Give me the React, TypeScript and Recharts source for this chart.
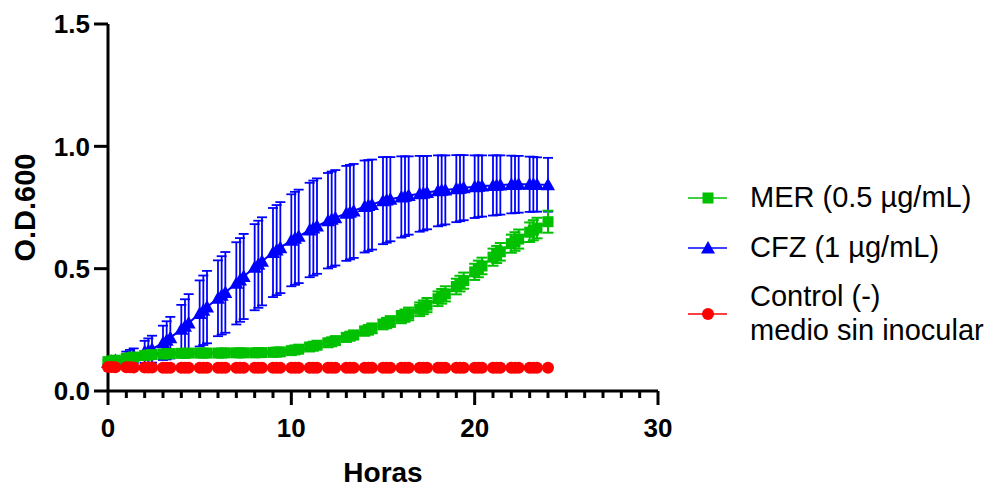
import React from 'react';
import { LineChart, Line, XAxis, YAxis, ErrorBar, Legend } from 'recharts';

// ─── Data ─────────────────────────────────────────────────────────────────────
// readings come in groups of three per hour, last one at 24 h
const TIME = [
    0, 0.2, 0.4, 1, 1.2, 1.4, 2, 2.2, 2.4, 3, 3.2, 3.4, 4, 4.2, 4.4, 5, 5.2, 5.4,
    6, 6.2, 6.4, 7, 7.2, 7.4, 8, 8.2, 8.4, 9, 9.2, 9.4, 10, 10.2, 10.4, 11, 11.2, 11.4,
    12, 12.2, 12.4, 13, 13.2, 13.4, 14, 14.2, 14.4, 15, 15.2, 15.4, 16, 16.2, 16.4,
    17, 17.2, 17.4, 18, 18.2, 18.4, 19, 19.2, 19.4, 20, 20.2, 20.4, 21, 21.2, 21.4,
    22, 22.2, 22.4, 23, 23.2, 23.4, 24,
];

const CFZ = [
    0.118, 0.122, 0.125, 0.136, 0.140, 0.144, 0.160, 0.165, 0.171, 0.197, 0.207, 0.218,
    0.252, 0.265, 0.278, 0.317, 0.330, 0.343, 0.379, 0.391, 0.403, 0.440, 0.454, 0.468,
    0.506, 0.518, 0.530, 0.566, 0.576, 0.586, 0.616, 0.624, 0.632, 0.658, 0.666, 0.674,
    0.696, 0.702, 0.708, 0.726, 0.731, 0.736, 0.754, 0.758, 0.762, 0.778, 0.781, 0.784,
    0.793, 0.796, 0.799, 0.806, 0.808, 0.811, 0.818, 0.820, 0.822, 0.827, 0.829, 0.831,
    0.835, 0.837, 0.838, 0.840, 0.841, 0.842, 0.844, 0.844, 0.845, 0.845, 0.845, 0.844,
    0.843,
];

const CFZ_SD = [
    0.010, 0.011, 0.012, 0.025, 0.028, 0.030, 0.045, 0.050, 0.055, 0.070, 0.078, 0.085,
    0.100, 0.110, 0.118, 0.135, 0.142, 0.148, 0.155, 0.160, 0.165, 0.168, 0.171, 0.174,
    0.176, 0.178, 0.180, 0.182, 0.184, 0.186, 0.188, 0.190, 0.191, 0.193, 0.194, 0.195,
    0.195, 0.195, 0.195, 0.194, 0.193, 0.192, 0.188, 0.186, 0.184, 0.178, 0.175, 0.172,
    0.166, 0.163, 0.160, 0.155, 0.152, 0.150, 0.145, 0.143, 0.141, 0.137, 0.135, 0.133,
    0.128, 0.126, 0.125, 0.123, 0.122, 0.121, 0.118, 0.117, 0.116, 0.113, 0.112, 0.111,
    0.110,
];

const MER = [
    0.120, 0.123, 0.126, 0.133, 0.136, 0.139, 0.145, 0.147, 0.149, 0.151, 0.152, 0.153,
    0.154, 0.154, 0.155, 0.155, 0.155, 0.155, 0.155, 0.155, 0.156, 0.156, 0.156, 0.156,
    0.156, 0.157, 0.157, 0.158, 0.159, 0.160, 0.165, 0.168, 0.171, 0.180, 0.183, 0.187,
    0.197, 0.201, 0.206, 0.219, 0.224, 0.229, 0.245, 0.250, 0.256, 0.272, 0.278, 0.284,
    0.302, 0.308, 0.315, 0.334, 0.342, 0.351, 0.377, 0.387, 0.397, 0.427, 0.439, 0.451,
    0.487, 0.499, 0.511, 0.547, 0.558, 0.569, 0.602, 0.611, 0.621, 0.649, 0.657, 0.666,
    0.692,
];

const MER_SD = [
    0.006, 0.006, 0.006, 0.006, 0.006, 0.006, 0.006, 0.006, 0.006, 0.006, 0.006, 0.006,
    0.006, 0.006, 0.006, 0.006, 0.006, 0.006, 0.006, 0.006, 0.006, 0.006, 0.006, 0.006,
    0.007, 0.007, 0.007, 0.008, 0.008, 0.008, 0.010, 0.010, 0.011, 0.012, 0.012, 0.013,
    0.014, 0.014, 0.015, 0.016, 0.016, 0.017, 0.018, 0.019, 0.020, 0.020, 0.021, 0.022,
    0.025, 0.025, 0.026, 0.028, 0.028, 0.029, 0.030, 0.030, 0.031, 0.032, 0.032, 0.033,
    0.033, 0.034, 0.034, 0.035, 0.035, 0.036, 0.037, 0.038, 0.039, 0.040, 0.041, 0.042,
    0.045,
];

const CTRL = [
    0.098, 0.098, 0.097, 0.097, 0.097, 0.096, 0.096, 0.096, 0.096, 0.095, 0.095, 0.095,
    0.095, 0.095, 0.095, 0.095, 0.095, 0.095, 0.095, 0.095, 0.095, 0.095, 0.095, 0.095,
    0.095, 0.095, 0.095, 0.095, 0.095, 0.095, 0.095, 0.095, 0.095, 0.095, 0.095, 0.095,
    0.095, 0.095, 0.095, 0.095, 0.095, 0.095, 0.095, 0.095, 0.095, 0.095, 0.095, 0.095,
    0.095, 0.095, 0.095, 0.095, 0.095, 0.095, 0.095, 0.095, 0.095, 0.095, 0.095, 0.095,
    0.095, 0.095, 0.095, 0.095, 0.095, 0.095, 0.095, 0.095, 0.095, 0.095, 0.095, 0.095,
    0.095,
];

const X_TICKS = [
    0, 1, 2, 3, 4, 5, 6, 7, 8, 9, 10, 11, 12, 13, 14, 15, 16, 17, 18, 19, 20,
    21, 22, 23, 24, 25, 26, 27, 28, 29, 30,
];
const Y_TICKS = [0, 0.5, 1, 1.5];

const BLUE = '#0000FF';
const GREEN = '#00C000';
const RED = '#FF0000';
const FONT = '"Liberation Sans", Arial, Helvetica, sans-serif';

const LEGEND = [
    { label: ['MER (0.5 µg/mL)'], color: GREEN, shape: 'square' },
    { label: ['CFZ (1 µg/mL)'], color: BLUE, shape: 'triangle' },
    { label: ['Control (-)', 'medio sin inocular'], color: RED, shape: 'circle' },
];

const data = TIME.map((t, i) => ({
    t,
    cfz: CFZ[i],
    cfzSd: CFZ_SD[i],
    mer: MER[i],
    merSd: MER_SD[i],
    ctrl: CTRL[i],
}));

// ─── Markers ──────────────────────────────────────────────────────────────────
function Marker({ shape, cx, cy, color }: { shape: string; cx: number; cy: number; color: string }) {
    if (shape === 'triangle') {
        return <polygon points={`${cx},${cy - 7} ${cx + 7},${cy + 5.5} ${cx - 7},${cy + 5.5}`} fill={color} />;
    }
    if (shape === 'square') {
        return <rect x={cx - 5.5} y={cy - 5.5} width={11} height={11} fill={color} />;
    }
    return <circle cx={cx} cy={cy} r={6} fill={color} />;
}

const dotOf = (shape: string, color: string) => (props: any) => {
    const { cx, cy, index } = props;
    if (cx == null || cy == null) return <g key={`e-${index}`} />;
    return (
        <g key={`${shape}-${index}`}>
            <Marker shape={shape} cx={cx} cy={cy} color={color} />
        </g>
    );
};

// ─── Axis pieces ──────────────────────────────────────────────────────────────
const XTick = (props: any) => {
    const { x, y, payload } = props;
    const major = payload.value % 10 === 0;
    return (
        <g>
            <line x1={x} x2={x} y1={y} y2={y + (major ? 14 : 7)} stroke="#000" strokeWidth={3} />
            {major && (
                <text x={x} y={y + 46} textAnchor="middle" fill="#000"
                    style={{ fontFamily: FONT, fontSize: 26, fontWeight: 'bold' }}>
                    {payload.value}
                </text>
            )}
        </g>
    );
};

const YLabel = (props: any) => {
    const { viewBox } = props;
    const cx = viewBox.x + 17;
    const cy = viewBox.y + viewBox.height / 2;
    return (
        <text x={cx} y={cy} transform={`rotate(-90, ${cx}, ${cy})`} textAnchor="middle" dominantBaseline="central"
            fill="#000" style={{ fontFamily: FONT, fontSize: 29, fontWeight: 'bold' }}>
            O.D.600
        </text>
    );
};

const XLabel = (props: any) => {
    const { viewBox } = props;
    return (
        <text x={viewBox.x + viewBox.width / 2} y={viewBox.y + 81} textAnchor="middle" dominantBaseline="central"
            fill="#000" style={{ fontFamily: FONT, fontSize: 28, fontWeight: 'bold' }}>
            Horas
        </text>
    );
};

// ─── Legend ───────────────────────────────────────────────────────────────────
const ROW_Y = [28, 78, 144];

const renderLegend = () => (
    <svg width={320} height={200} style={{ position: 'absolute', left: 680, top: 170, overflow: 'visible' }}>
        {LEGEND.map((item, i) => {
            const my = ROW_Y[i];
            const first = my + 9 - (item.label.length - 1) * 17;
            return (
                <g key={i}>
                    <line x1={8} x2={47} y1={my} y2={my} stroke={item.color} strokeWidth={1.5} />
                    <Marker shape={item.shape} cx={28} cy={my} color={item.color} />
                    {item.label.map((line, j) => (
                        <text key={j} x={70} y={first + j * 34} fill="#000"
                            style={{ fontFamily: FONT, fontSize: 29 }}>
                            {line}
                        </text>
                    ))}
                </g>
            );
        })}
    </svg>
);

// ─── Chart ────────────────────────────────────────────────────────────────────
export default function App() {
    return (
        <div style={{ position: 'absolute', left: 0, top: 0, background: '#fff' }}>
            <LineChart width={999} height={487} data={data}
                margin={{ top: 24, right: 341, bottom: 36, left: 8 }}>
                <XAxis dataKey="t" type="number" domain={[0, 30]} ticks={X_TICKS} interval={0}
                    height={60} tickSize={0} tickMargin={0} tickLine={false}
                    axisLine={{ stroke: '#000', strokeWidth: 3 }} tick={<XTick />} label={<XLabel />} />
                <YAxis type="number" domain={[0, 1.5]} ticks={Y_TICKS} interval={0} width={100}
                    tickFormatter={(v: number) => v.toFixed(1)} tickSize={14} tickMargin={4}
                    tickLine={{ stroke: '#000', strokeWidth: 3 }} axisLine={{ stroke: '#000', strokeWidth: 3 }}
                    tick={{ fill: '#000', fontSize: 26, fontWeight: 'bold', fontFamily: FONT }}
                    label={<YLabel />} />
                <Legend content={renderLegend} wrapperStyle={{ left: 0, top: 0, width: 0, height: 0 }} />
                <Line dataKey="cfz" name="CFZ (1 µg/mL)" stroke={BLUE} strokeWidth={2}
                    dot={dotOf('triangle', BLUE)} activeDot={false} isAnimationActive={false}>
                    <ErrorBar dataKey="cfzSd" width={5} stroke={BLUE} strokeWidth={1.8} isAnimationActive={false} />
                </Line>
                <Line dataKey="mer" name="MER (0.5 µg/mL)" stroke={GREEN} strokeWidth={2}
                    dot={dotOf('square', GREEN)} activeDot={false} isAnimationActive={false}>
                    <ErrorBar dataKey="merSd" width={5.5} stroke={GREEN} strokeWidth={2} isAnimationActive={false} />
                </Line>
                <Line dataKey="ctrl" name="Control (-)" stroke={RED} strokeWidth={2}
                    dot={dotOf('circle', RED)} activeDot={false} isAnimationActive={false} />
            </LineChart>
        </div>
    );
}
